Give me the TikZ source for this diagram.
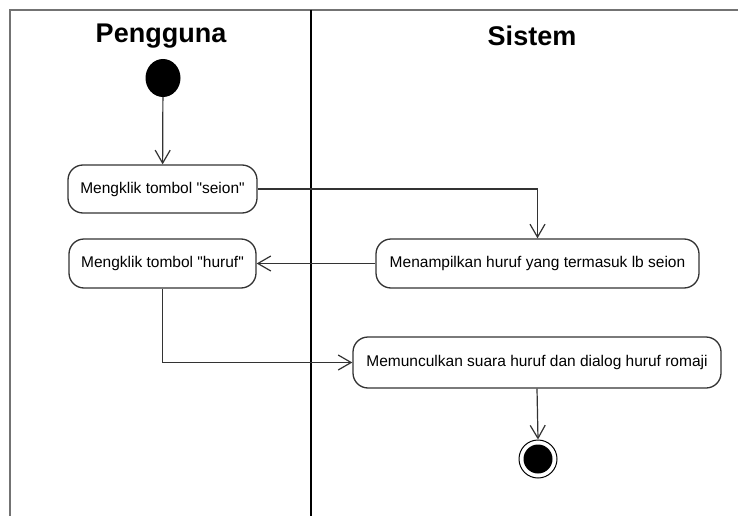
\documentclass[tikz,border=0pt]{standalone}
\usepackage{fontspec}
\setmainfont{Liberation Sans}[Ligatures=TeXOff]
\usetikzlibrary{arrows.meta,shapes.geometric}
\begin{document}
\begin{tikzpicture}[x=1pt,y=-1pt,
  lane/.style={line width=1.4pt,black},
  frame/.style={line width=2pt,black!55},
  header/.style={font=\fontsize{27}{30}\selectfont\bfseries,inner sep=0pt},
  action/.style={draw=black!80,line width=1.3pt,rounded corners=15pt,
    font=\fontsize{15.5}{18}\selectfont,inner sep=0pt,align=center},
  flow/.style={draw=black!80,line width=1.2pt,
    -{Straight Barb[length=13pt,width=15pt,line width=1.2pt]}},
  startnode/.style={ellipse,fill=black,minimum width=35pt,minimum height=38pt,inner sep=0pt},
  endnode/.style={circle,draw=black,line width=1pt,fill=white,minimum size=38pt,inner sep=0pt,
    path picture={\fill[black] (path picture bounding box.center) circle[radius=14.5pt];}}
]
\useasboundingbox (0,0) rectangle (738,516);
\fill[white] (0,0) rectangle (738,516);

% swimlane frame
\draw[frame] (10,516) -- (10,10) -- (738,10);
\draw[lane] (311,10) -- (311,516);

% lane titles
\node[header] (lane1) at (161,36) {Pengguna};
\node[header] (lane2) at (532,36) {Sistem};

% nodes
\node[startnode] (start) at (163,78) {};
\node[action,minimum width=189pt,minimum height=48pt] (seion) at (162.5,189) {Mengklik tombol "seion"};
\node[action,minimum width=187pt,minimum height=49pt] (huruf) at (162.5,263.5) {Mengklik tombol "huruf"};
\node[action,minimum width=323pt,minimum height=49pt] (tampil) at (537.5,263.5) {Menampilkan huruf yang termasuk lb seion};
\node[action,minimum width=368pt,minimum height=51pt] (suara) at (537,362.5) {Memunculkan suara huruf dan dialog huruf romaji};
\node[endnode] (stop) at (538,459) {};

% control flow
\draw[flow] (start) -- (seion);
\draw[flow] (seion.east) -| (tampil.north);
\draw[flow] (tampil.west) -- (huruf.east);
\draw[flow] (huruf.south) |- (suara.west);
\draw[flow] (suara.south) -- (stop.north);
\end{tikzpicture}
\end{document}
